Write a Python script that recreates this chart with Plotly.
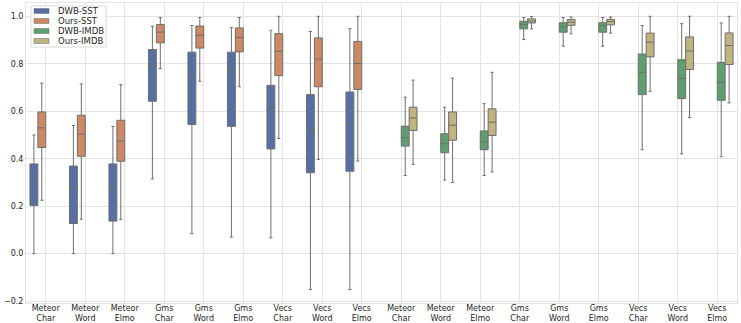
import plotly.graph_objects as go

# category labels: 9 SST groups then 9 IMDB groups
methods = ["Meteor", "Meteor", "Meteor", "Gms", "Gms", "Gms", "Vecs", "Vecs", "Vecs"]
embeds = ["Char", "Word", "Elmo"] * 3
labels = [f"{m}<br>{e}" for m, e in zip(methods, embeds)] * 2
sst_pos = list(range(0, 9))
imdb_pos = list(range(9, 18))

# box stats: lower whisker, q1, median, q3, upper whisker
dwb_sst_low = [0.0, 0.0, 0.0, 0.315, 0.084, 0.070, 0.067, -0.151, -0.151]
dwb_sst_q1 = [0.203, 0.127, 0.137, 0.642, 0.544, 0.536, 0.441, 0.341, 0.347]
dwb_sst_med = [0.308, 0.281, 0.291, 0.793, 0.757, 0.770, 0.617, 0.524, 0.545]
dwb_sst_q3 = [0.378, 0.369, 0.378, 0.860, 0.849, 0.849, 0.709, 0.670, 0.681]
dwb_sst_high = [0.500, 0.540, 0.536, 0.958, 0.961, 0.952, 0.941, 0.936, 0.948]

ours_sst_low = [0.225, 0.145, 0.144, 0.780, 0.726, 0.703, 0.485, 0.397, 0.390]
ours_sst_q1 = [0.447, 0.410, 0.389, 0.888, 0.866, 0.850, 0.750, 0.703, 0.692]
ours_sst_med = [0.530, 0.503, 0.474, 0.933, 0.920, 0.911, 0.852, 0.820, 0.801]
ours_sst_q3 = [0.597, 0.583, 0.562, 0.965, 0.959, 0.951, 0.927, 0.909, 0.894]
ours_sst_high = [0.718, 0.715, 0.712, 0.995, 0.995, 0.995, 1.0, 1.0, 1.0]

dwb_imdb_low = [0.329, 0.310, 0.329, 0.902, 0.874, 0.874, 0.438, 0.420, 0.408]
dwb_imdb_q1 = [0.453, 0.425, 0.438, 0.947, 0.933, 0.933, 0.670, 0.653, 0.646]
dwb_imdb_med = [0.488, 0.463, 0.471, 0.966, 0.955, 0.961, 0.764, 0.739, 0.722]
dwb_imdb_q3 = [0.537, 0.505, 0.517, 0.979, 0.973, 0.973, 0.841, 0.817, 0.806]
dwb_imdb_high = [0.659, 0.617, 0.632, 0.995, 0.995, 0.995, 0.961, 0.969, 0.972]

ours_imdb_low = [0.376, 0.300, 0.344, 0.947, 0.926, 0.929, 0.684, 0.573, 0.635]
ours_imdb_q1 = [0.519, 0.478, 0.498, 0.972, 0.962, 0.964, 0.829, 0.776, 0.797]
ours_imdb_med = [0.572, 0.541, 0.554, 0.980, 0.975, 0.978, 0.891, 0.854, 0.877]
ours_imdb_q3 = [0.617, 0.597, 0.610, 0.989, 0.986, 0.987, 0.929, 0.913, 0.930]
ours_imdb_high = [0.731, 0.739, 0.764, 0.999, 0.997, 0.997, 1.0, 1.0, 1.0]

series = [
    ("DWB-SST", sst_pos, dwb_sst_low, dwb_sst_q1, dwb_sst_med, dwb_sst_q3, dwb_sst_high, "#586FA3"),
    ("Ours-SST", sst_pos, ours_sst_low, ours_sst_q1, ours_sst_med, ours_sst_q3, ours_sst_high, "#CC8963"),
    ("DWB-IMDB", imdb_pos, dwb_imdb_low, dwb_imdb_q1, dwb_imdb_med, dwb_imdb_q3, dwb_imdb_high, "#5F9E6E"),
    ("Ours-IMDB", imdb_pos, ours_imdb_low, ours_imdb_q1, ours_imdb_med, ours_imdb_q3, ours_imdb_high, "#C1B37F"),
]

W, H = 741, 323
ML, MR, MT, MB = 26, 4, 3, 20
edge = "#6e6e6e"

fig = go.Figure()
for name, pos, lo, q1, med, q3, hi, color in series:
    fig.add_trace(go.Box(
        name=name,
        x=pos,
        lowerfence=lo,
        q1=q1,
        median=med,
        q3=q3,
        upperfence=hi,
        boxpoints=False,
        fillcolor=color,
        line=dict(color=edge, width=1),
        whiskerwidth=0.4,
        showlegend=False,
    ))

# compact matplotlib-style legend (plotly's own legend rows are too tall here)
def px_x(p):
    return (p - ML) / (W - ML - MR)

def px_y(p):
    return (H - MB - p) / (H - MT - MB)

fig.add_shape(type="rect", xref="paper", yref="paper",
              x0=px_x(31), x1=px_x(106), y0=px_y(47), y1=px_y(6),
              fillcolor="rgba(255,255,255,0.85)", line=dict(color="#d8d8d8", width=1))
for i, (name, *_, color) in enumerate(series):
    cy = 11 + 10 * i
    fig.add_shape(type="rect", xref="paper", yref="paper",
                  x0=px_x(34), x1=px_x(49), y0=px_y(cy + 2.5), y1=px_y(cy - 2.5),
                  fillcolor=color, line=dict(color=edge, width=0.5))
    fig.add_annotation(xref="paper", yref="paper", x=px_x(56), y=px_y(cy),
                       xanchor="left", yanchor="middle", text=name, showarrow=False,
                       font=dict(size=8.5, color="#262626"))

grid = "#e3e3e3"
fig.update_layout(
    width=W,
    height=H,
    boxmode="group",
    boxgap=0.2,
    boxgroupgap=0,
    paper_bgcolor="white",
    plot_bgcolor="white",
    font=dict(family="DejaVu Sans", size=8, color="#262626"),
    margin=dict(l=ML, r=MR, t=MT, b=MB),
    xaxis=dict(
        range=[-0.5, 17.5],
        tickmode="array",
        tickvals=sst_pos + imdb_pos,
        ticktext=labels,
        showgrid=True,
        gridcolor=grid,
        zeroline=False,
        showline=True,
        linecolor=grid,
        mirror=True,
        ticks="",
        ticklabelstandoff=-3,
        automargin=False,
    ),
    yaxis=dict(
        range=[-0.208, 1.056],
        tickmode="array",
        tickvals=[-0.2, 0.0, 0.2, 0.4, 0.6, 0.8, 1.0],
        tickformat=".1f",
        showgrid=True,
        gridcolor=grid,
        zeroline=False,
        showline=True,
        linecolor=grid,
        mirror=True,
        ticks="",
        automargin=False,
    ),
)

fig.write_html("out.html", config={"displayModeBar": False},
               post_script="document.body.style.margin='0';")
